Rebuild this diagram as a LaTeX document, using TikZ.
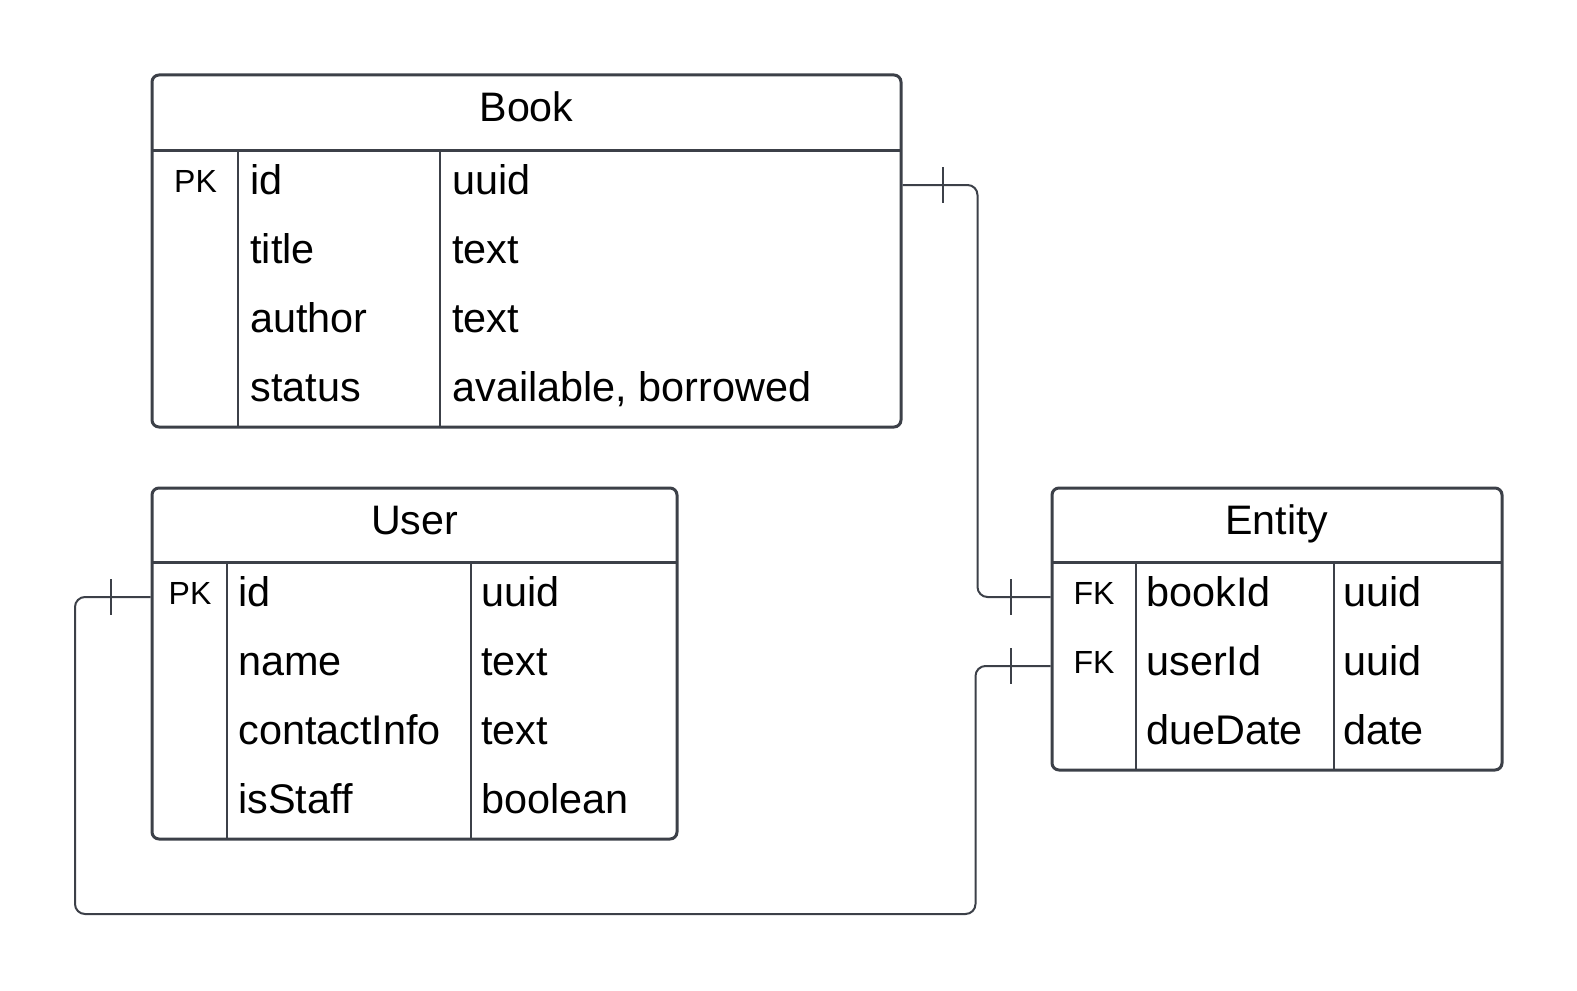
\documentclass[tikz,border=0pt]{standalone}
\usepackage{fontspec}
\setmainfont{Liberation Sans}
\usetikzlibrary{fit}
\definecolor{erline}{RGB}{60,64,72}

\begin{document}
\begin{tikzpicture}[
  x=0.5pt, y=-0.5pt,
  table/.style = {
    rectangle, rounded corners=3.5pt,
    draw=erline, line width=1.5pt,
    inner sep=0pt
  },
  rule/.style = {draw=erline, line width=1.5pt},
  col/.style = {draw=erline, line width=1.3pt},
  title/.style = {anchor=base, inner sep=0pt, font=\fontsize{20.6}{24}\selectfont},
  field/.style = {anchor=base west, inner sep=0pt, font=\fontsize{20.7}{24}\selectfont},
  key/.style = {anchor=base, inner sep=0pt, font=\fontsize{16}{19}\selectfont},
  rel/.style = {draw=erline, line width=1pt, rounded corners=5pt},
  bar/.style = {draw=erline, line width=1pt}
]
\useasboundingbox (0,0) rectangle (1577,990);

% Book
\node[table, fit={(152,75) (901,427)}] (book) {};
\draw[rule] (152,150) -- (901,150);
\draw[col] (238,150) -- (238,427);
\draw[col] (440,150) -- (440,427);
\node[title] (book-title) at (526.5,121.5) {Book};
\foreach \y/\f/\t [count=\i] in {185/id/uuid, 254/title/text, 323/author/text, 392/status/{available, borrowed}} {
  \coordinate (book-r\i) at (152,\y);
  \node[field] (book-f\i) at (250,\y+9) {\f};
  \node[field] (book-t\i) at (452,\y+9) {\t};
}
\node[key] (book-pk) at (195.5,192) {PK};

% User
\node[table, fit={(152,488) (677,839)}] (user) {};
\draw[rule] (152,562) -- (677,562);
\draw[col] (227,562) -- (227,839);
\draw[col] (471,562) -- (471,839);
\node[title] (user-title) at (414.5,534) {User};
\foreach \y/\f/\t [count=\i] in {597/id/uuid, 666/name/text, 735/contactInfo/text, 804/isStaff/boolean} {
  \coordinate (user-r\i) at (152,\y);
  \node[field] (user-f\i) at (238,\y+9) {\f};
  \node[field] (user-t\i) at (481,\y+9) {\t};
}
\node[key] (user-pk) at (190,604) {PK};

% Entity
\node[table, fit={(1052,488) (1502,770)}] (entity) {};
\draw[rule] (1052,562) -- (1502,562);
\draw[col] (1136,562) -- (1136,770);
\draw[col] (1334,562) -- (1334,770);
\node[title] (entity-title) at (1277,534) {Entity};
\foreach \y/\f/\t [count=\i] in {597/bookId/uuid, 666/userId/uuid, 735/dueDate/date} {
  \coordinate (entity-r\i) at (1052,\y);
  \node[field] (entity-f\i) at (1146,\y+9) {\f};
  \node[field] (entity-t\i) at (1343,\y+9) {\t};
}
\node[key] (entity-fk1) at (1094,604) {FK};
\node[key] (entity-fk2) at (1094,673) {FK};

% relations
\coordinate (loop) at (75,914);
\draw[rel] (book.east |- book-r1) -- ++(75,0) |- (entity.west |- entity-r1);
\draw[rel] (entity.west |- entity-r2) -- ++(-75,0) |- (loop) |- (user.west |- user-r1);

\draw[bar] (book.east |- book-r1) ++(40,-18) -- ++(0,36);
\draw[bar] (entity.west |- entity-r1) ++(-40,-18) -- ++(0,36);
\draw[bar] (entity.west |- entity-r2) ++(-40,-18) -- ++(0,36);
\draw[bar] (user.west |- user-r1) ++(-40,-18) -- ++(0,36);
\end{tikzpicture}
\end{document}
